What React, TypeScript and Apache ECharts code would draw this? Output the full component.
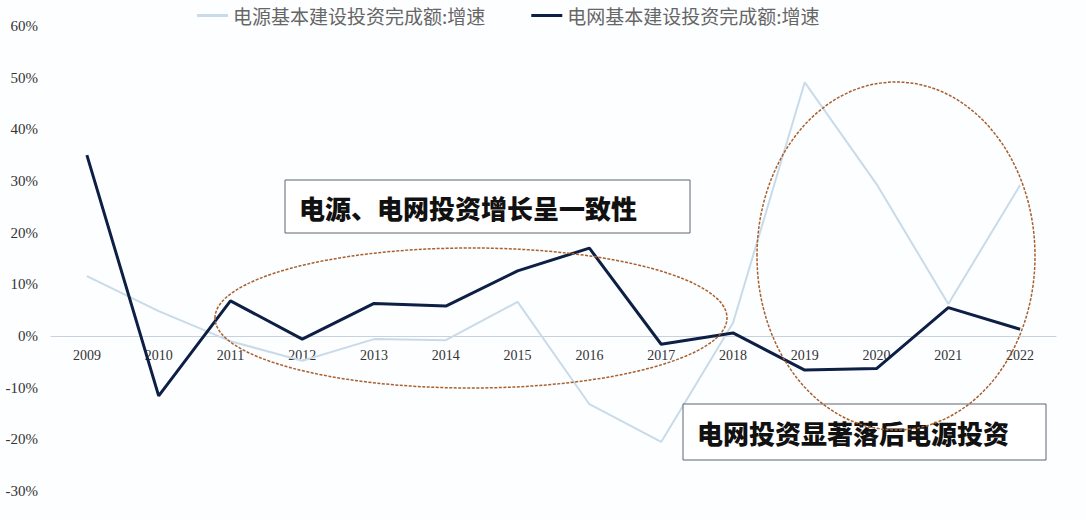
import { useEffect, useRef } from 'react';
import * as echarts from 'echarts';

// 年份
const years = ['2009', '2010', '2011', '2012', '2013', '2014', '2015', '2016', '2017', '2018', '2019', '2020', '2021', '2022'];

// 电源基本建设投资完成额:增速 (%)
const powerSource = [11.6, 4.8, -1.0, -4.8, -0.6, -0.8, 6.6, -13.2, -20.5, 2.5, 49.1, 29.4, 6.2, 29.2];

// 电网基本建设投资完成额:增速 (%)
const powerGrid = [35.0, -11.6, 6.8, -0.6, 6.3, 5.8, 12.6, 17.0, -1.6, 0.6, -6.6, -6.3, 5.5, 1.3];

const seriesNames = ['电源基本建设投资完成额:增速', '电网基本建设投资完成额:增速'];
const notes = ['电源、电网投资增长呈一致性', '电网投资显著落后电源投资'];

const serif = '"Liberation Serif", "DejaVu Serif", serif';
const cjk = '"Noto Sans CJK SC", sans-serif';
const ringColor = '#a8602e';

const yMin = -30;
const yMax = 60;

export default function App() {
  const ref = useRef<HTMLDivElement>(null);

  useEffect(() => {
    if (!ref.current) return;
    const chart = echarts.init(ref.current, null, { renderer: 'svg' });
    const top = 26;
    const bottom = 29;
    const plotH = 520 - top - bottom;
    // lift the category axis (line and labels) up to the 0% level
    const zeroOffset = -(plotH * (0 - yMin)) / (yMax - yMin);
    chart.setOption({
      animation: false,
      backgroundColor: '#fdfeff',
      grid: { left: 51, right: 30, top, bottom },
      legend: {
        left: 192,
        top: 1,
        itemWidth: 31,
        itemHeight: 3,
        itemGap: 46,
        icon: 'rect',
        textStyle: { fontFamily: cjk, fontSize: 19, color: '#666' },
        data: seriesNames
      },
      xAxis: {
        type: 'category',
        data: years,
        boundaryGap: true,
        offset: zeroOffset,
        axisLine: { onZero: false, lineStyle: { color: '#c8d2de', width: 1 } },
        axisTick: { show: false },
        axisLabel: { fontFamily: serif, fontSize: 14, color: '#333', margin: 12 }
      },
      yAxis: {
        type: 'value',
        min: yMin,
        max: yMax,
        interval: 10,
        axisLine: { show: false },
        axisTick: { show: false },
        splitLine: { show: false },
        axisLabel: { fontFamily: serif, fontSize: 15, color: '#333', margin: 13, formatter: '{value}%' }
      },
      series: [
        {
          name: seriesNames[0],
          type: 'line',
          data: powerSource,
          symbol: 'none',
          lineStyle: { color: '#c9dbe8', width: 2 },
          itemStyle: { color: '#c9dbe8' }
        },
        {
          name: seriesNames[1],
          type: 'line',
          data: powerGrid,
          symbol: 'none',
          lineStyle: { color: '#0d1f45', width: 3 },
          itemStyle: { color: '#0d1f45' }
        }
      ],
      graphic: [
        {
          type: 'rect',
          z: 5,
          shape: { x: 285, y: 180, width: 405, height: 53 },
          style: { fill: '#ffffff', stroke: '#5e6470', lineWidth: 1 }
        },
        {
          type: 'text',
          z: 6,
          x: 299,
          y: 207,
          style: {
            text: notes[0],
            fontFamily: cjk,
            fontWeight: 900,
            fontSize: 26,
            fill: '#111',
            verticalAlign: 'middle'
          }
        },
        {
          type: 'rect',
          z: 5,
          shape: { x: 683, y: 404, width: 363, height: 56 },
          style: { fill: '#ffffff', stroke: '#5e6470', lineWidth: 1 }
        },
        {
          type: 'text',
          z: 6,
          x: 697,
          y: 432,
          style: {
            text: notes[1],
            fontFamily: cjk,
            fontWeight: 900,
            fontSize: 26,
            fill: '#111',
            verticalAlign: 'middle'
          }
        },
        {
          type: 'ellipse',
          z: 10,
          shape: { cx: 471, cy: 318, rx: 256, ry: 70 },
          style: { fill: 'none', stroke: ringColor, lineWidth: 1.5, lineDash: [3, 1.5] }
        },
        {
          type: 'ellipse',
          z: 10,
          shape: { cx: 896, cy: 256, rx: 139, ry: 174 },
          style: { fill: 'none', stroke: ringColor, lineWidth: 1.5, lineDash: [3, 1.5] }
        }
      ]
    });
    return () => {
      chart.dispose();
    };
  }, []);

  return <div ref={ref} style={{ position: 'fixed', left: 0, top: 0, width: 1086, height: 520 }} />;
}
